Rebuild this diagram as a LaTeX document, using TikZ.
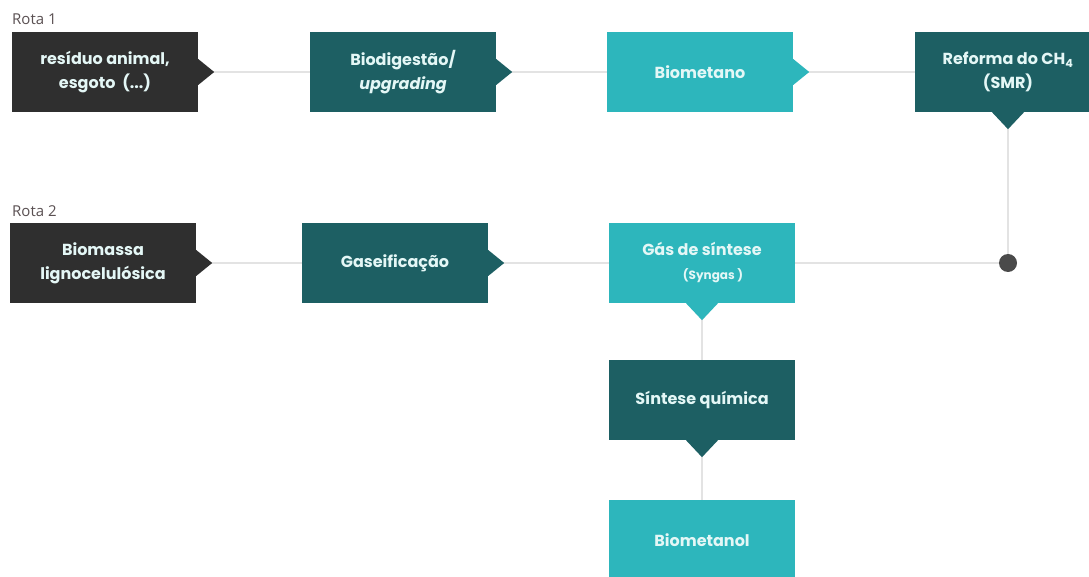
\documentclass[tikz,border=0pt]{standalone}
\usepackage{fontspec}
\setmainfont{Poppins}
\newfontfamily\rotafont{Open Sans}
\usetikzlibrary{calc}

\definecolor{cinzaesc}{HTML}{2F2F2F}
\definecolor{petroleo}{HTML}{1D5F63}
\definecolor{turquesa}{HTML}{2DB6BC}
\definecolor{linha}{HTML}{E3E3E3}
\definecolor{texto}{HTML}{E4F7F6}
\definecolor{ponto}{HTML}{4A4A4A}
\definecolor{rotacor}{HTML}{5A5052}

\tikzset{
  etapa/.style={rectangle, minimum width=186pt, minimum height=80pt,
    inner sep=0pt, align=center, text=texto,
    font=\bfseries\fontsize{16}{24}\selectfont},
  ligacao/.style={draw=linha, line width=2pt},
  rota/.style={anchor=base west, inner sep=0pt, text=rotacor,
    font=\rotafont\fontsize{15}{17}\selectfont},
}
% pontas triangulares das caixas
\newcommand{\pontadir}[2]{%
  \fill[#2] ($(#1.east)+(0,13)$) -- ($(#1.east)+(16,0)$)
    -- ($(#1.east)+(0,-13)$) -- cycle;}
\newcommand{\pontabaixo}[2]{%
  \fill[#2] ($(#1.south)+(-16,0)$) -- ($(#1.south)+(0,-17)$)
    -- ($(#1.south)+(16,0)$) -- cycle;}

\begin{document}
\begin{tikzpicture}[x=1pt,y=1pt]
  \clip (0,0) rectangle (1089,-577);
  \fill[white] (0,0) rectangle (1089,-577);

  % Rota 1
  \node[rota] (rota1) at (12,-25) {Rota 1};
  \node[etapa, fill=cinzaesc] (residuo) at (105,-72)
    {resíduo animal,\\esgoto\ \ (...)};
  \node[etapa, fill=petroleo] (biodig) at (403,-72)
    {Biodigestão/\\\textit{upgrading}};
  \node[etapa, fill=turquesa] (biomet) at (700,-72) {Biometano};
  \node[etapa, fill=petroleo] (smr) at (1008,-72)
    {Reforma do CH\textsubscript{4}\\(SMR)};

  % Rota 2
  \node[rota] (rota2) at (12,-217) {Rota 2};
  \node[etapa, fill=cinzaesc] (biomassa) at (103,-263)
    {Biomassa\\lignocelulósica};
  \node[etapa, fill=petroleo] (gasef) at (395,-263) {Gaseificação};
  \node[etapa, fill=turquesa] (syngas) at (702,-263)
    {Gás de síntese\\\hspace*{22pt}{\fontsize{12}{14}\selectfont(Syngas )}};
  \node[etapa, fill=petroleo] (sintese) at (702,-400) {Síntese química};
  \node[etapa, fill=turquesa] (biometanol) at (702,-540) {Biometanol};

  \node[circle, fill=ponto, minimum size=18pt, inner sep=0pt]
    (juncao) at (1008,-263) {};

  % ligacoes
  \draw[ligacao] (residuo.east) -- (biodig.west);
  \draw[ligacao] (biodig.east) -- (biomet.west);
  \draw[ligacao] (biomet.east) -- (smr.west);
  \draw[ligacao] (smr.south) -- (juncao);
  \draw[ligacao] (biomassa.east) -- (gasef.west);
  \draw[ligacao] (gasef.east) -- (syngas.west);
  \draw[ligacao] (syngas.east) -- (juncao);
  \draw[ligacao] (syngas.south) -- (sintese.north);
  \draw[ligacao] (sintese.south) -- (biometanol.north);

  \pontadir{residuo}{cinzaesc}
  \pontadir{biodig}{petroleo}
  \pontadir{biomet}{turquesa}
  \pontabaixo{smr}{petroleo}
  \pontadir{biomassa}{cinzaesc}
  \pontadir{gasef}{petroleo}
  \pontabaixo{syngas}{turquesa}
  \pontabaixo{sintese}{petroleo}
\end{tikzpicture}
\end{document}
